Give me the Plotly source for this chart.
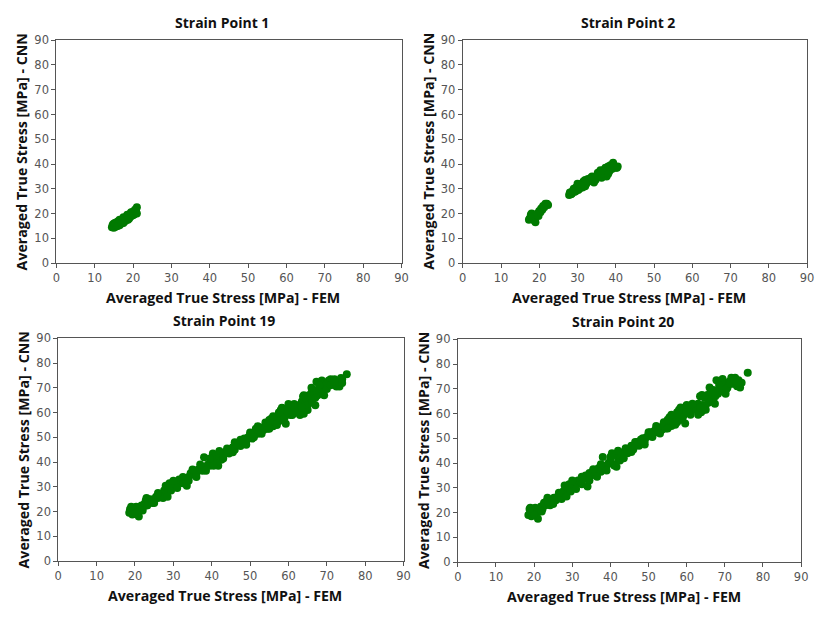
import plotly.graph_objects as go

# ---- data: averaged true stress [MPa], FEM (x) vs CNN (y) ----
sp1_fem = [14.5, 14.7, 14.9, 15.0, 15.2, 15.4, 15.5, 15.7, 15.9, 16.0, 16.2, 16.4, 16.6,
           16.8, 17.0, 17.2, 17.4, 17.6, 17.8, 18.0, 18.2, 18.4, 18.6, 18.8, 19.0, 19.2,
           19.4, 19.6, 19.8, 20.0, 20.2, 20.4, 20.6, 20.8, 21.0, 15.3, 16.5, 17.5, 18.7, 19.9,
           15.0, 15.5, 16.0, 16.5, 17.0, 17.5, 18.0, 18.5, 19.0, 19.5, 20.0, 20.5, 21.0]
sp1_cnn = [14.5, 15.5, 14.8, 16.0, 15.2, 16.3, 14.7, 16.0, 15.5, 16.8, 15.8, 17.0, 16.2,
           17.3, 16.5, 17.5, 16.8, 18.0, 17.2, 18.3, 17.5, 18.8, 18.0, 19.3, 18.5, 19.8,
           18.8, 20.2, 19.2, 20.5, 19.5, 20.8, 20.0, 21.0, 22.5, 15.0, 15.3, 16.2, 17.5, 20.6,
           14.3, 15.5, 15.0, 17.5, 16.0, 18.5, 17.0, 19.5, 18.0, 20.5, 19.5, 21.5, 20.0]

sp2_fem = [17.3, 17.5, 17.8, 18.0, 18.2, 18.5, 18.8, 19.0, 19.2, 19.5, 19.8, 20.0, 20.3,
           20.5, 20.8, 21.0, 21.3, 21.6, 22.0, 22.3,
           27.8, 28.0, 28.3, 28.7, 29.0, 29.3, 29.5, 29.6, 30.0, 30.2, 30.6, 31.0, 31.3,
           31.6, 32.0, 32.3, 32.7, 33.0, 33.5, 33.8, 34.0, 34.3, 34.7, 35.0, 35.3, 35.6,
           36.0, 36.3, 36.7, 37.0, 37.3, 37.6, 38.0, 38.3, 38.6, 39.0, 39.3, 39.6, 40.0, 40.3,
           28.5, 29.0, 30.5, 31.5, 32.5, 33.5, 34.5, 35.5, 36.5, 37.5, 38.5, 39.5, 40.5,
           30.0, 32.0, 36.0, 38.0]
sp2_cnn = [17.5, 18.0, 19.5, 20.0, 19.0, 18.5, 17.0, 16.5, 19.5, 20.0, 19.0, 21.0, 20.5,
           22.0, 21.5, 23.0, 22.5, 24.0, 24.0, 23.5,
           27.5, 28.5, 27.8, 29.0, 30.0, 28.8, 29.0, 30.5, 31.0, 29.5, 31.5, 32.0, 30.5,
           33.0, 33.5, 32.0, 34.0, 33.0, 33.5, 35.0, 34.0, 32.5, 33.5, 35.0, 36.5, 35.0,
           36.0, 34.5, 37.5, 36.0, 38.5, 35.0, 39.0, 37.0, 39.5, 38.0, 40.5, 39.0, 38.5, 38.5,
           28.0, 29.0, 30.0, 31.5, 33.0, 34.5, 34.0, 35.5, 36.0, 37.0, 38.0, 39.5, 39.0,
           32.0, 31.0, 37.5, 36.0]

sp19_fem = [18.5, 18.7, 19.0, 19.3, 19.6, 20.0, 20.3, 20.7, 21.0, 21.3, 21.7, 22.0, 22.4,
            22.8, 23.2, 23.6, 24.0, 24.5, 25.0, 25.5, 26.0, 26.5, 27.0, 27.3, 27.6, 28.0,
            28.3, 28.7, 29.0, 29.4, 30.0, 30.5, 31.0, 31.5, 32.0, 32.5, 33.0, 33.5, 34.0,
            34.5, 35.0, 35.5, 36.0, 36.5, 37.0, 37.6, 38.0, 38.5, 39.0, 39.5, 40.0, 40.3,
            40.7, 41.0, 41.3, 41.7, 42.0, 42.5, 43.0, 43.5, 44.0, 44.5, 45.0, 45.5, 46.0,
            46.5, 47.0, 47.5, 48.0, 48.5, 49.0, 49.5, 50.0, 50.5, 51.0, 51.5, 52.0, 52.5,
            53.0, 53.5, 54.0, 54.5, 55.0, 55.5, 56.0, 56.5, 57.0, 57.5, 58.0, 58.3, 58.7,
            59.0, 59.3, 59.7, 60.0, 60.5, 61.0, 61.5, 62.0, 62.5, 63.0, 63.5, 63.8, 64.0,
            64.3, 64.7, 65.0, 65.3, 65.7, 66.0, 66.5, 66.8, 67.0, 67.3, 67.6, 68.0, 68.3,
            68.7, 69.0, 69.3, 69.7, 70.0, 70.5, 71.0, 71.5, 72.0, 72.5, 73.0, 73.3, 73.7,
            74.0, 75.2,
            19.0, 20.0, 22.0, 23.0, 25.0, 26.0, 28.5, 30.0, 31.0, 32.5, 34.0, 35.0, 36.0,
            37.0, 38.5, 39.5, 40.5, 42.0, 43.0, 44.0, 45.5, 46.0, 47.5, 49.0, 50.0, 51.0,
            52.0, 53.0, 54.0, 55.0, 56.0, 57.0, 58.0, 59.0, 60.0, 61.0, 62.0, 63.0, 64.0,
            65.0, 66.0, 66.2, 67.0, 68.0, 69.0, 70.0, 71.0, 72.0, 74.0, 62.5, 64.5, 60.0,
            57.5, 55.0, 61.5, 63.5]
sp19_cnn = [19.5, 21.0, 20.0, 18.8, 21.5, 20.5, 22.0, 19.5, 18.0, 21.0, 22.5, 21.5, 23.0,
            24.5, 22.5, 24.0, 25.0, 23.5, 25.0, 26.0, 25.5, 26.5, 27.0, 25.5, 28.5, 30.5,
            27.5, 29.0, 31.5, 28.5, 30.0, 31.0, 32.0, 33.0, 32.0, 31.5, 33.0, 30.5, 34.0,
            35.5, 35.0, 36.5, 35.5, 37.0, 37.5, 36.5, 42.0, 38.0, 39.0, 38.5, 40.0, 43.5,
            41.0, 39.5, 43.0, 38.5, 42.0, 41.0, 43.0, 44.0, 45.5, 43.5, 45.0, 46.0, 45.0,
            47.0, 47.5, 46.5, 48.0, 49.5, 48.5, 50.0, 51.0, 49.5, 52.0, 53.5, 51.5, 52.5,
            54.0, 53.0, 54.5, 53.5, 55.0, 57.5, 54.5, 56.0, 58.0, 56.5, 59.5, 62.0, 57.0,
            60.0, 55.5, 61.0, 62.5, 59.0, 61.0, 62.5, 60.0, 63.0, 61.5, 64.5, 66.5, 59.5,
            63.0, 65.5, 61.0, 67.0, 64.0, 68.0, 66.0, 69.0, 63.0, 72.5, 67.0, 68.5, 70.0,
            73.0, 71.5, 67.0, 70.0, 72.0, 73.0, 73.5, 72.0, 73.5, 70.5, 72.0, 70.5, 74.0,
            72.0, 75.5,
            22.0, 19.0, 20.5, 25.5, 23.5, 27.5, 26.0, 32.5, 29.5, 34.0, 32.5, 37.0, 34.0,
            39.0, 36.5, 41.5, 38.5, 44.5, 41.5, 44.0, 44.0, 48.0, 49.0, 47.0, 52.0, 50.0,
            54.5, 51.5, 56.0, 53.5, 58.5, 55.0, 61.0, 58.0, 63.5, 59.0, 62.0, 59.0, 67.0,
            63.0, 70.0, 64.5, 66.0, 71.0, 68.0, 69.5, 71.0, 72.5, 73.5, 61.0, 61.0, 60.0,
            60.0, 57.0, 63.5, 62.0]

sp20_fem = [18.5, 18.8, 19.0, 19.3, 19.6, 20.0, 20.3, 20.7, 21.0, 21.4, 21.8, 22.2, 22.6,
            23.0, 23.4, 23.8, 24.2, 24.7, 25.2, 25.7, 26.2, 26.7, 27.2, 27.6, 28.0, 28.4,
            28.8, 29.2, 29.6, 30.0, 30.5, 31.0, 31.5, 32.0, 32.5, 33.0, 33.5, 34.0, 34.5,
            35.0, 35.5, 36.0, 36.5, 37.0, 37.5, 38.0, 38.5, 39.0, 39.5, 40.0, 40.4, 40.8,
            41.2, 41.6, 42.0, 42.5, 43.0, 43.5, 44.0, 44.5, 45.0, 45.5, 46.0, 46.5, 47.0,
            47.5, 48.0, 48.5, 49.0, 49.5, 50.0, 50.5, 51.0, 51.5, 52.0, 52.5, 53.0, 53.5,
            54.0, 54.5, 55.0, 55.5, 56.0, 56.5, 57.0, 57.5, 58.0, 58.4, 58.8, 59.2, 59.6,
            60.0, 60.5, 61.0, 61.5, 62.0, 62.5, 63.0, 63.5, 63.8, 64.2, 64.6, 65.0, 65.4,
            65.8, 66.2, 66.6, 67.0, 67.4, 67.8, 68.2, 68.6, 69.0, 69.4, 69.8, 70.2, 70.7,
            71.2, 71.7, 72.2, 72.7, 73.2, 73.6, 74.0, 74.4, 76.0,
            19.0, 20.0, 22.0, 23.5, 25.0, 26.5, 28.5, 30.0, 31.0, 32.5, 34.5, 35.5, 36.5,
            37.5, 39.0, 40.0, 41.0, 42.0, 43.5, 44.5, 45.5, 46.5, 48.0, 49.0, 50.0, 51.0,
            52.0, 53.0, 54.0, 55.0, 56.0, 57.0, 58.0, 59.0, 60.0, 61.0, 62.0, 63.0, 64.0,
            65.0, 66.0, 66.5, 67.5, 68.5, 69.5, 70.5, 71.5, 72.5, 73.0, 62.5, 64.5, 60.0,
            57.5, 55.0, 61.5, 63.5]
sp20_cnn = [19.0, 21.5, 20.0, 18.5, 21.0, 20.5, 22.0, 19.5, 17.5, 21.0, 22.5, 21.5, 24.0,
            23.0, 25.0, 24.0, 23.0, 25.0, 26.0, 25.0, 26.5, 27.0, 25.5, 28.5, 31.0, 27.5,
            30.0, 31.5, 28.5, 30.5, 31.0, 32.5, 33.0, 32.0, 31.5, 33.5, 35.0, 30.5, 36.0,
            35.0, 37.0, 36.0, 37.5, 38.0, 36.5, 42.5, 38.5, 39.0, 40.0, 41.0, 44.0, 39.5,
            43.5, 38.5, 42.0, 41.0, 43.0, 44.5, 46.0, 44.0, 45.5, 47.0, 45.5, 47.0, 48.5,
            47.0, 48.0, 50.0, 49.0, 50.5, 51.0, 52.5, 51.0, 53.0, 54.0, 52.5, 54.5, 53.5,
            55.0, 54.0, 56.0, 58.5, 55.0, 57.0, 58.5, 56.5, 60.0, 62.5, 57.5, 59.5, 56.0,
            61.0, 62.5, 60.0, 61.5, 63.0, 62.0, 64.0, 67.0, 60.5, 63.5, 66.5, 61.5, 67.5,
            64.5, 68.5, 66.0, 69.5, 64.0, 73.5, 68.0, 69.0, 71.0, 74.0, 72.0, 68.0, 70.5,
            73.0, 74.5, 72.0, 74.5, 71.0, 73.5, 70.5, 72.5, 76.5,
            22.0, 19.0, 20.5, 26.0, 23.5, 28.0, 26.5, 33.0, 29.5, 34.5, 33.0, 37.5, 34.5,
            39.5, 37.0, 42.5, 39.0, 45.0, 42.0, 44.5, 44.5, 48.5, 49.5, 47.5, 52.5, 50.5,
            55.0, 52.0, 56.5, 54.0, 59.5, 55.5, 61.5, 58.5, 63.5, 59.5, 62.5, 59.5, 67.5,
            63.5, 70.5, 65.0, 67.0, 71.5, 69.0, 70.0, 72.0, 73.5, 72.5, 61.5, 61.5, 60.5,
            60.5, 57.5, 64.0, 62.5]

titles = ["Strain Point 1", "Strain Point 2", "Strain Point 19", "Strain Point 20"]
tick_vals = list(range(0, 100, 10))
x_title = "Averaged True Stress [MPa] - FEM"
y_title = "Averaged True Stress [MPa] - CNN"

W, H = 818, 618
# panel boxes in pixels: (left, right, top, bottom)
boxes = [(53, 403, 34, 262), (465, 814, 34, 262), (55, 405, 339, 567), (460, 808, 340, 568)]
series = [(sp1_fem, sp1_cnn), (sp2_fem, sp2_cnn), (sp19_fem, sp19_cnn), (sp20_fem, sp20_cnn)]

GREEN = "#007a00"
fig = go.Figure()
layout = dict(width=W, height=H, margin=dict(l=0, r=0, t=0, b=0),
              paper_bgcolor="white", plot_bgcolor="white", showlegend=False)
annotations = []
label_font = dict(family="Open Sans, Liberation Sans, sans-serif", size=14.2, color="#111111")

for i, ((xs, ys), (l, r, t, b), ttl) in enumerate(zip(series, boxes, titles)):
    n = "" if i == 0 else str(i + 1)
    fig.add_trace(go.Scatter(x=xs, y=ys, mode="markers", xaxis="x" + n, yaxis="y" + n,
                             marker=dict(size=8, color=GREEN, line=dict(width=0))))
    ax = dict(range=[0, 90], tickvals=tick_vals, showgrid=False, zeroline=False,
              showline=True, mirror=True, linecolor="#555555", linewidth=1,
              ticks="outside", ticklen=4, tickcolor="#555555",
              tickfont=dict(family="DejaVu Sans, sans-serif", size=11.5, color="#555555"))
    layout["xaxis" + n] = dict(ax, domain=[l / W, r / W], anchor="y" + n)
    layout["yaxis" + n] = dict(ax, domain=[1 - b / H, 1 - t / H], anchor="x" + n)
    cx = (l + r) / 2 / W
    annotations.append(dict(text="<b>%s</b>" % ttl, x=cx - 7 / W, y=1 - (t - 18) / H,
                            xref="paper", yref="paper", showarrow=False,
                            xanchor="center", yanchor="middle",
                            font=dict(label_font, size=14)))
    annotations.append(dict(text="<b>%s</b>" % x_title, x=cx - 6 / W, y=1 - (b + 35) / H,
                            xref="paper", yref="paper", showarrow=False,
                            xanchor="center", yanchor="middle", font=label_font))
    annotations.append(dict(text="<b>%s</b>" % y_title, x=(l - 35) / W, y=1 - (t + b) / 2 / H,
                            xref="paper", yref="paper", showarrow=False, textangle=-90,
                            xanchor="center", yanchor="middle", font=label_font))

layout["annotations"] = annotations
fig.update_layout(**layout)
fig.write_html("out.html")
